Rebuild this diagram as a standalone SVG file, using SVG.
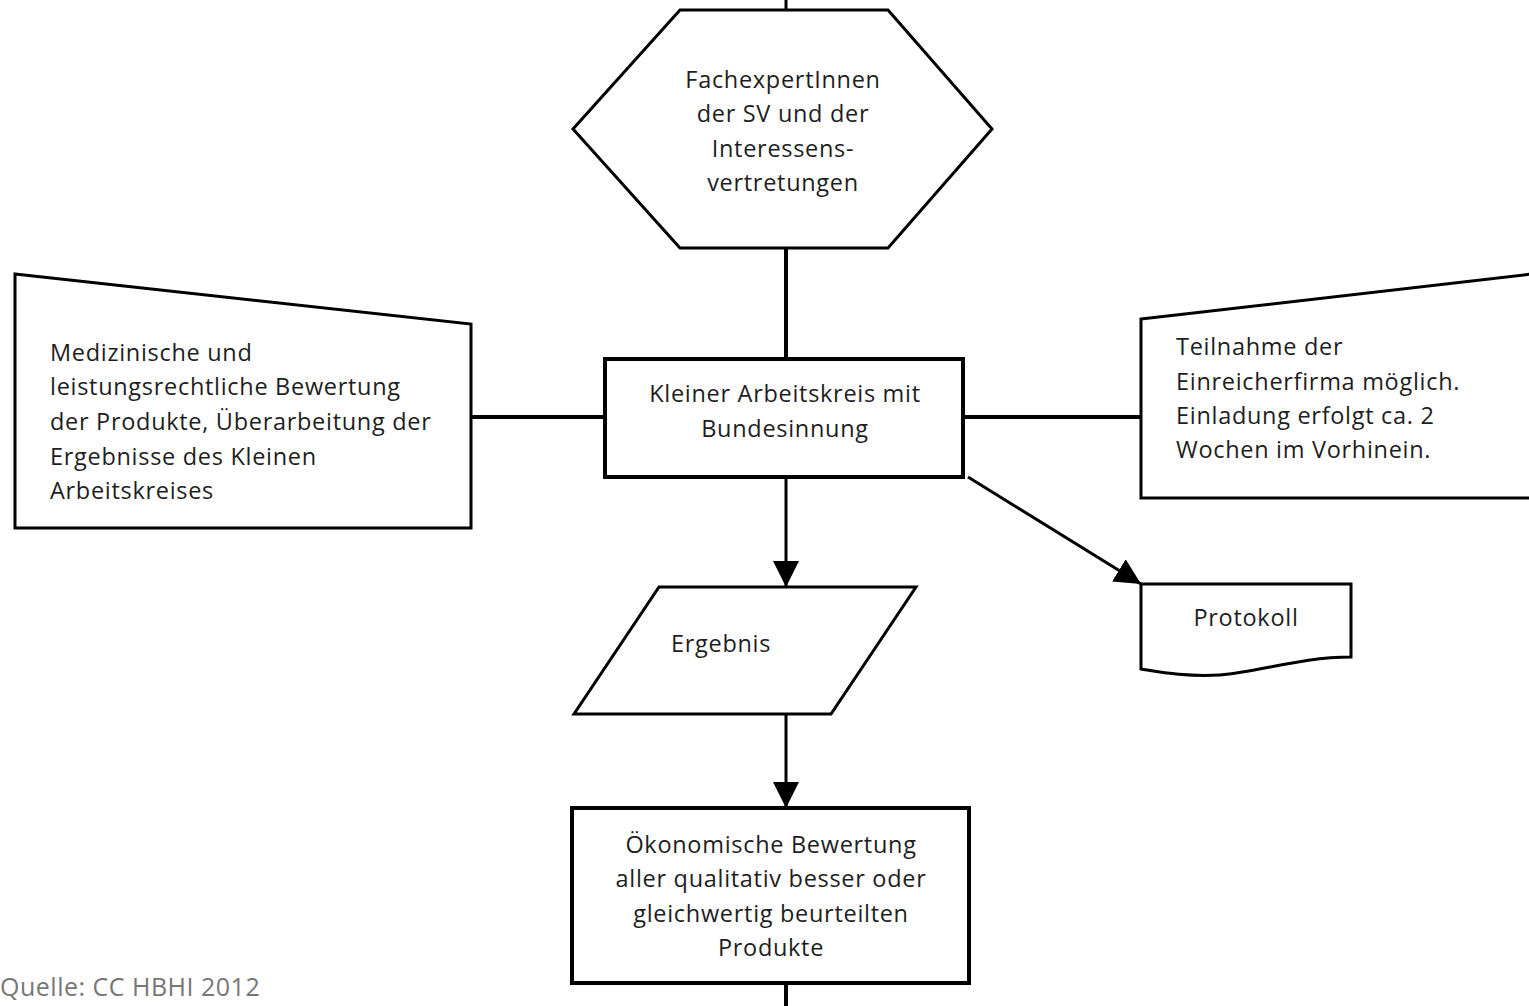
<svg xmlns="http://www.w3.org/2000/svg" width="1529" height="1006" viewBox="0 0 1529 1006">
<style>
.s{fill:#fff;stroke:#000;stroke-width:3}
.b{fill:#fff;stroke:#000;stroke-width:4}
.t{font-family:"Open Sans",Lato,sans-serif;font-size:23.5px;letter-spacing:0.7px;fill:#1e1e1e}
.c{text-anchor:middle}
.ln{stroke:#000;stroke-width:4;fill:none}
.ln3{stroke:#000;stroke-width:3;fill:none}
</style>
<defs>
<marker id="ah" markerUnits="userSpaceOnUse" markerWidth="30" markerHeight="30" refX="26" refY="13" orient="auto">
<path d="M0,0 L26,13 L0,26 Z" fill="#000"/>
</marker>
</defs>
<rect width="1529" height="1006" fill="#fff"/>
<g id="connectors">
<line class="ln3" x1="786" y1="0" x2="786" y2="10"/>
<line class="ln" x1="786" y1="248" x2="786" y2="359"/>
<line class="ln" x1="471" y1="417" x2="605" y2="417"/>
<line class="ln" x1="963" y1="417" x2="1141" y2="417"/>
<line class="ln3" x1="786" y1="477" x2="786" y2="587" marker-end="url(#ah)"/>
<line class="ln3" x1="968" y1="477" x2="1141" y2="584" marker-end="url(#ah)"/>
<line class="ln3" x1="786" y1="714" x2="786" y2="808" marker-end="url(#ah)"/>
<line class="ln" x1="786" y1="983" x2="786" y2="1006"/>
</g>
<g id="n-fachexperten">
<polygon class="s" points="680,10 888,10 992,129 888,248 680,248 573,129"/>
<text class="t c" x="783" y="88">FachexpertInnen</text>
<text class="t c" x="783" y="122">der SV und der</text>
<text class="t c" x="783" y="157">Interessens-</text>
<text class="t c" x="783" y="191">vertretungen</text>
</g>
<g id="n-medizinisch">
<polygon class="s" points="15,274 471,324 471,528 15,528"/>
<text class="t" x="50" y="361">Medizinische und</text>
<text class="t" x="50" y="395">leistungsrechtliche Bewertung</text>
<text class="t" x="50" y="430">der Produkte, Überarbeitung der</text>
<text class="t" x="50" y="465">Ergebnisse des Kleinen</text>
<text class="t" x="50" y="499">Arbeitskreises</text>
</g>
<g id="n-arbeitskreis">
<rect class="b" x="605" y="359" width="358" height="118"/>
<text class="t c" x="785" y="402">Kleiner Arbeitskreis mit</text>
<text class="t c" x="785" y="437">Bundesinnung</text>
</g>
<g id="n-teilnahme">
<polygon class="s" points="1141,319 1532,274 1532,498 1141,498"/>
<text class="t" x="1176" y="355">Teilnahme der</text>
<text class="t" x="1176" y="390">Einreicherfirma möglich.</text>
<text class="t" x="1176" y="424">Einladung erfolgt ca. 2</text>
<text class="t" x="1176" y="458">Wochen im Vorhinein.</text>
</g>
<g id="n-protokoll">
<path class="s" d="M1141,584 H1351 V657 C1300,657 1260,672 1220,675 C1185,677 1160,672 1141,669 Z"/>
<text class="t c" x="1246" y="626">Protokoll</text>
</g>
<g id="n-ergebnis">
<polygon class="s" points="659,587 916,587 831,714 574,714"/>
<text class="t" x="671" y="652">Ergebnis</text>
</g>
<g id="n-oekonomisch">
<rect class="b" x="572" y="808" width="397" height="175"/>
<text class="t c" x="771" y="853">Ökonomische Bewertung</text>
<text class="t c" x="771" y="887">aller qualitativ besser oder</text>
<text class="t c" x="771" y="922">gleichwertig beurteilten</text>
<text class="t c" x="771" y="956">Produkte</text>
</g>
<text x="0" y="996" style="font-family:'Open Sans',sans-serif;font-size:25px;letter-spacing:0.5px;fill:#777">Quelle: CC HBHI 2012</text>
</svg>
